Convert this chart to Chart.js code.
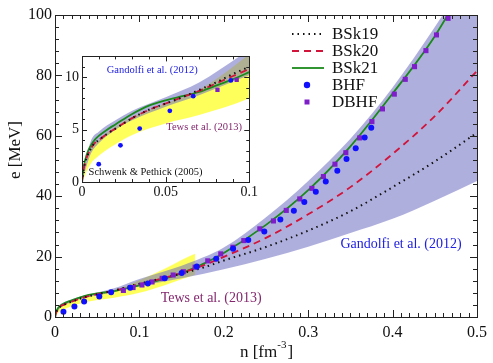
<!DOCTYPE html>
<html>
<head>
<meta charset="utf-8">
<script src="https://cdn.jsdelivr.net/npm/chart.js@4.4.1/dist/chart.umd.min.js"></script>
<style>
body{margin:0;background:#fff;}
#wrap{position:relative;width:493px;height:363px;}
#inset{position:absolute;left:62px;top:45px;background:#fff;}
</style>
</head>
<body>
<div id="wrap">
<canvas id="main" width="493" height="363"></canvas>
<canvas id="inset" width="198" height="155"></canvas>
</div>
<script>
// BSk functionals (same density grid for all three)
const lineX = [0, 0.001, 0.003, 0.005, 0.0075, 0.01, 0.015, 0.02, 0.03, 0.04, 0.05, 0.06, 0.07, 0.08, 0.09, 0.1, 0.125, 0.15, 0.175, 0.2, 0.25, 0.3, 0.35, 0.4, 0.45, 0.5];
const bsk19 = [0, 1.2, 2.4, 3.1, 3.7, 4.0, 4.6, 5.1, 6.1, 6.9, 7.5, 8.1, 8.8, 9.5, 10.3, 11.0, 12.7, 14.4, 16.3, 18.7, 23.2, 28.6, 35, 43, 51.5, 61];
const bsk20 = [0, 1.2, 2.4, 3.1, 3.7, 4.0, 4.6, 5.1, 6.1, 6.9, 7.5, 8.1, 8.7, 9.4, 10.1, 10.8, 12.6, 14.6, 17.0, 19.9, 26.2, 34, 43, 54, 66.5, 81.5];
const bsk21 = [0, 1.4, 2.7, 3.4, 4.0, 4.4, 5.0, 5.5, 6.5, 7.3, 7.8, 8.2, 8.6, 9.2, 9.8, 10.5, 12.3, 14.5, 17.5, 21.2, 30.5, 42, 56.5, 74, 93, 117];

// microscopic calculations
const bhfX = [0.01, 0.023, 0.0345, 0.0525, 0.0665, 0.089, 0.11, 0.13, 0.15, 0.168, 0.191, 0.211, 0.229, 0.248, 0.267, 0.283, 0.2954, 0.309, 0.3208, 0.3345, 0.3454, 0.3563, 0.3669, 0.3747];
const bhfY = [1.7, 3.5, 5.1, 6.8, 8.2, 9.7, 11.1, 12.8, 14.6, 16.7, 19.3, 22.6, 25.5, 28.3, 32.3, 35.2, 38.1, 41.5, 44.9, 48.4, 52.3, 55.9, 59.4, 62.7];
const dbhfX = [0.081, 0.0925, 0.103, 0.115, 0.127, 0.14, 0.152, 0.166, 0.181, 0.1964, 0.2108, 0.2237, 0.2427, 0.2588, 0.274, 0.29, 0.3044, 0.318, 0.3317, 0.3446, 0.361, 0.3755, 0.388, 0.402, 0.415, 0.426, 0.4395, 0.452, 0.4657];
const dbhfY = [8.8, 9.75, 10.6, 11.6, 12.8, 13.9, 15.0, 16.5, 18.6, 20.9, 23.1, 25.3, 29.2, 31.8, 35.3, 39.1, 42.6, 46.5, 50.6, 54.4, 59.3, 64.7, 68.9, 73.8, 78.7, 82.9, 88.2, 93.4, 98.9];

// bands
const tewsX = [0, 0.005, 0.01, 0.02, 0.03, 0.05, 0.07, 0.1, 0.13, 0.15, 0.166];
const tewsLo = [0, 1.7, 2.5, 3.6, 4.5, 5.6, 6.4, 8.0, 10.5, 12.5, 14.0];
const tewsHi = [0, 3.0, 4.0, 5.3, 6.2, 7.5, 8.8, 12.2, 16.0, 18.9, 21.0];
const gandX = [0, 0.005, 0.01, 0.02, 0.03, 0.05, 0.07, 0.1, 0.15, 0.2, 0.25, 0.3, 0.35, 0.4, 0.45, 0.5];
const gandLo = [0, 2.6, 3.7, 5.0, 5.9, 7.2, 8.3, 10.2, 12.8, 15.8, 19.3, 23.3, 27.8, 32.5, 38.5, 45];
const gandHi = [0, 3.8, 4.8, 5.9, 6.8, 8.1, 9.5, 12.6, 17.0, 23, 33, 45, 59, 76, 96, 118];

const SERIF = '"Liberation Serif", "DejaVu Serif", serif';
const pts = (xs, ys) => xs.map((x, i) => ({x: x, y: ys[i]}));

function makeDatasets(r) {
  const band = (xs, ys, fill, color) => ({data: pts(xs, ys), borderColor: 'transparent', borderWidth: 0,
    pointRadius: 0, fill: fill, backgroundColor: color, cubicInterpolationMode: 'monotone', order: 10});
  const line = (label, ys, color, dash, w) => ({label: label, data: pts(lineX, ys), borderColor: color, borderWidth: w,
    borderDash: dash, pointRadius: 0, fill: false, cubicInterpolationMode: 'monotone', order: 5});
  const dots = (label, xs, ys, color, style, rad) => ({label: label, data: pts(xs, ys), showLine: false,
    pointStyle: style, pointRadius: rad, backgroundColor: color, borderColor: color, borderWidth: 0, order: 1});
  const tl = band(tewsX, tewsLo, false, 'transparent');
  const th = band(tewsX, tewsHi, '-1', '#ffff5c');
  const gl = band(gandX, gandLo, false, 'transparent');
  const gh = band(gandX, gandHi, '-1', 'rgba(110,110,195,0.55)');
  gl.order = 9; gh.order = 9;
  return [tl, th, gl, gh,
    line('BSk19', bsk19, '#111', [1.5, 4], 2),
    line('BSk20', bsk20, '#d2143a', [7, 5], 1.8),
    line('BSk21', bsk21, '#1a8a1a', [], 1.8),
    dots('BHF', bhfX, bhfY, '#1010ff', 'circle', r),
    dots('DBHF', dbhfX, dbhfY, '#7d1ec8', 'rect', r + 0.6)];
}

const frameTicks = {
  id: 'frameTicks',
  afterDraw(chart, args, o) {
    const {ctx, chartArea: a} = chart;
    const x = chart.scales.x, y = chart.scales.y;
    ctx.save();
    ctx.strokeStyle = '#222';
    ctx.lineWidth = 1;
    ctx.beginPath();
    const nx = Math.round((x.max - x.min) / o.xMinor);
    for (let i = 0; i <= nx; i++) {
      const len = (i % o.xEvery === 0) ? o.major : o.minor;
      const px = Math.round(x.getPixelForValue(x.min + i * o.xMinor)) + 0.5;
      ctx.moveTo(px, a.bottom); ctx.lineTo(px, a.bottom - len);
      ctx.moveTo(px, a.top); ctx.lineTo(px, a.top + len);
    }
    const ny = Math.round((y.max - y.min) / o.yMinor);
    for (let i = 0; i <= ny; i++) {
      const len = (i % o.yEvery === 0) ? o.major : o.minor;
      const py = Math.round(y.getPixelForValue(y.min + i * o.yMinor)) + 0.5;
      ctx.moveTo(a.left, py); ctx.lineTo(a.left + len, py);
      ctx.moveTo(a.right, py); ctx.lineTo(a.right - len, py);
    }
    ctx.stroke();
    ctx.strokeRect(Math.round(a.left) + 0.5, Math.round(a.top) + 0.5, Math.round(a.right - a.left), Math.round(a.bottom - a.top));
    ctx.restore();
  }
};

const notes = {
  id: 'notes',
  afterDatasetsDraw(chart, args, o) {
    const ctx = chart.ctx;
    ctx.save();
    ctx.textAlign = 'center';
    ctx.textBaseline = 'middle';
    (o.items || []).forEach(n => {
      ctx.font = n.size + 'px ' + SERIF;
      ctx.fillStyle = n.color;
      ctx.fillText(n.text, chart.scales.x.getPixelForValue(n.x), chart.scales.y.getPixelForValue(n.y));
    });
    ctx.restore();
  }
};

const legendBox = {
  id: 'legendBox',
  afterDraw(chart, args, o) {
    if (!o.show) return;
    const ctx = chart.ctx;
    ctx.save();
    ctx.font = '17px ' + SERIF;
    ctx.textBaseline = 'middle';
    chart.data.datasets.filter(d => d.label).forEach((d, i) => {
      const yy = o.top + i * 17;
      if (d.showLine === false) {
        ctx.fillStyle = d.backgroundColor;
        ctx.beginPath();
        if (d.pointStyle === 'circle') ctx.arc(o.left + 15, yy, 3.2, 0, Math.PI * 2);
        else ctx.rect(o.left + 12.5, yy - 2.5, 5, 5);
        ctx.fill();
      } else {
        ctx.strokeStyle = d.borderColor;
        ctx.lineWidth = d.borderWidth;
        ctx.setLineDash(d.borderDash);
        ctx.beginPath();
        ctx.moveTo(o.left, yy); ctx.lineTo(o.left + 32, yy);
        ctx.stroke();
        ctx.setLineDash([]);
      }
      ctx.fillStyle = '#111';
      ctx.fillText(d.label, o.left + 40, yy + 1);
    });
    ctx.restore();
  }
};

const axisTitles = {
  id: 'axisTitles',
  afterDraw(chart, args, o) {
    if (!o.show) return;
    const ctx = chart.ctx;
    ctx.save();
    ctx.fillStyle = '#111';
    ctx.font = '17px ' + SERIF;
    ctx.textBaseline = 'middle';
    ctx.translate(16, 150);
    ctx.rotate(-Math.PI / 2);
    ctx.textAlign = 'center';
    ctx.fillText('e [MeV]', 0, 0);
    ctx.restore();
    ctx.save();
    ctx.fillStyle = '#111';
    ctx.textBaseline = 'alphabetic';
    ctx.font = '17px ' + SERIF;
    const a = 'n [fm', b = '-3', c = ']';
    const wa = ctx.measureText(a).width, wc = ctx.measureText(c).width;
    ctx.font = '11px ' + SERIF;
    const wb = ctx.measureText(b).width;
    let x0 = (chart.chartArea.left + chart.chartArea.right) / 2 - (wa + wb + wc) / 2;
    ctx.font = '17px ' + SERIF;
    ctx.fillText(a, x0, 357);
    ctx.font = '11px ' + SERIF;
    ctx.fillText(b, x0 + wa, 348);
    ctx.font = '17px ' + SERIF;
    ctx.fillText(c, x0 + wa + wb + 1, 357);
    ctx.restore();
  }
};

const fmt = v => String(+v.toFixed(3));

function scales(xmax, xstep, ymax, ystep, fs, yw, xh, pad) {
  return {
    x: {type: 'linear', min: 0, max: xmax, grid: {display: false, drawTicks: false}, border: {display: false},
      ticks: {stepSize: xstep, includeBounds: false, padding: pad, color: '#111', font: {family: SERIF, size: fs}, callback: fmt, maxRotation: 0},
      afterFit: s => { s.height = xh; }},
    y: {type: 'linear', min: 0, max: ymax, grid: {display: false, drawTicks: false}, border: {display: false},
      ticks: {stepSize: ystep, includeBounds: false, padding: 3, color: '#111', font: {family: SERIF, size: fs}, callback: fmt},
      afterFit: s => { s.width = yw; }}
  };
}

new Chart(document.getElementById('main'), {
  type: 'line',
  data: {datasets: makeDatasets(3)},
  options: {
    responsive: false, animation: false, devicePixelRatio: 1,
    layout: {padding: {top: 15, right: 11, left: 0, bottom: 0}},
    scales: scales(0.5, 0.1, 100, 20, 16, 55, 46, 6),
    plugins: {
      legend: {display: false}, tooltip: {enabled: false},
      frameTicks: {xMinor: 0.01, xEvery: 10, yMinor: 4, yEvery: 5, major: 7, minor: 4},
      notes: {items: [
        {text: 'Gandolfi et al. (2012)', x: 0.41, y: 24.2, color: '#2020e0', size: 14},
        {text: 'Tews et al. (2013)', x: 0.185, y: 6.3, color: '#84286e', size: 14}
      ]},
      legendBox: {show: true, left: 292, top: 34},
      axisTitles: {show: true}
    }
  },
  plugins: [frameTicks, notes, legendBox, axisTitles]
});

new Chart(document.getElementById('inset'), {
  type: 'line',
  data: {datasets: makeDatasets(2.4)},
  options: {
    responsive: false, animation: false, devicePixelRatio: 1,
    layout: {padding: {top: 8, right: 4, left: 0, bottom: 0}},
    scales: scales(0.1, 0.05, 12, 5, 14, 20, 18, 2),
    plugins: {
      legend: {display: false}, tooltip: {enabled: false},
      frameTicks: {xMinor: 0.01, xEvery: 5, yMinor: 1, yEvery: 5, major: 5, minor: 3},
      notes: {items: [
        {text: 'Gandolfi et al. (2012)', x: 0.042, y: 10.65, color: '#2020e0', size: 10.5},
        {text: 'Tews et al. (2013)', x: 0.073, y: 5.2, color: '#84286e', size: 10.5},
        {text: 'Schwenk & Pethick (2005)', x: 0.038, y: 0.9, color: '#111', size: 10.5}
      ]},
      legendBox: {show: false}, axisTitles: {show: false}
    }
  },
  plugins: [frameTicks, notes, legendBox, axisTitles]
});
</script>
</body>
</html>
